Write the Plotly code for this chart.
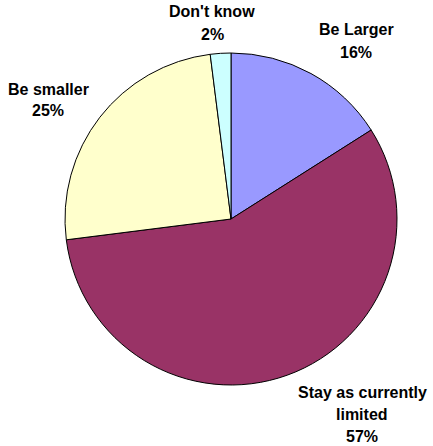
import plotly.graph_objects as go

labels = ["Be Larger", "Stay as currently limited", "Be smaller", "Don't know"]
values = [16, 57, 25, 2]
colors = ["#9999FF", "#993366", "#FFFFCC", "#CCFFFF"]

W, H = 433, 446
cx, cy, r = 231, 219, 166

fig = go.Figure(go.Pie(
    labels=labels, values=values, sort=False, direction="clockwise", rotation=0,
    marker=dict(colors=colors, line=dict(color="black", width=1)),
    textinfo="none", hoverinfo="label+percent", showlegend=False,
    domain=dict(x=[(cx - r) / W, (cx + r) / W], y=[(H - cy - r) / H, (H - cy + r) / H]),
))

total = sum(values)
pcts = [f"{round(v * 100 / total)}%" for v in values]
label_lines = [
    ["Be Larger", pcts[0]],
    ["Stay as currently", "limited", pcts[1]],
    ["Be smaller", pcts[2]],
    ["Don't know", pcts[3]],
]
# label anchor (center x, first line y) in pixels
anchors = [(356, 30), (362, 392), (48, 89), (212, 12)]
line_gap = 22

annotations = []
for lines, (ax, ay) in zip(label_lines, anchors):
    for i, t in enumerate(lines):
        annotations.append(dict(
            x=ax / W, y=1 - (ay + i * line_gap) / H, xref="paper", yref="paper",
            text=t, showarrow=False, xanchor="center", yanchor="middle",
            font=dict(family="Liberation Sans, Arial", size=16, color="black", weight="bold"),
        ))

fig.update_layout(
    width=W, height=H, margin=dict(l=0, r=0, t=0, b=0),
    paper_bgcolor="white", plot_bgcolor="white",
    annotations=annotations,
)
fig.write_html("out.html")
